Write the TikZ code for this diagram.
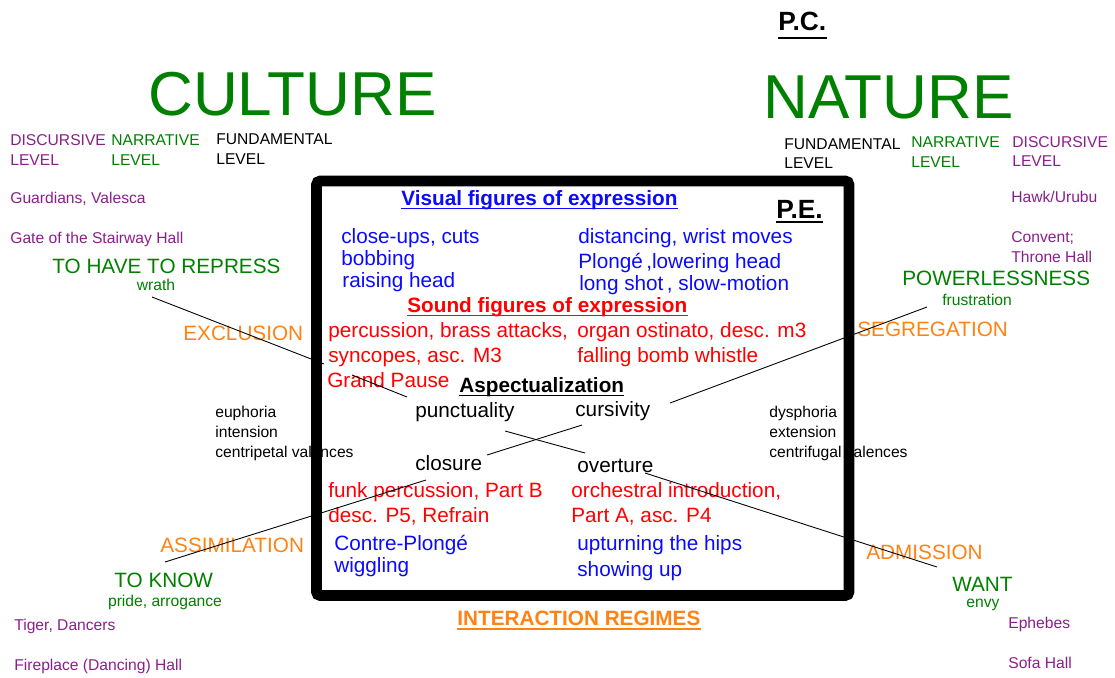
\documentclass[tikz,border=0pt]{standalone}
\usepackage{fontspec}
\setmainfont{Liberation Sans}
\usepackage{tikz}

\definecolor{lvpurple}{RGB}{140,30,140}
\definecolor{lvgreen}{RGB}{0,128,0}
\definecolor{lvorange}{RGB}{255,130,20}
\definecolor{lvblue}{RGB}{10,10,255}
\definecolor{lvred}{RGB}{255,0,0}

\tikzset{
  big/.style={anchor=base west, inner sep=0pt, font=\fontsize{11.8}{14}\selectfont},
  bigb/.style={anchor=base west, inner sep=0pt, font=\fontsize{11.8}{14}\selectfont\bfseries},
  sml/.style={anchor=base west, inner sep=0pt, font=\fontsize{8.9}{11}\selectfont},
  huge/.style={anchor=base west, inner sep=0pt, font=\fontsize{35.3}{40}\selectfont, lvgreen},
  tag/.style={anchor=base west, inner sep=0pt, font=\fontsize{15}{18}\selectfont\bfseries},
  uline/.style={line width=1.1pt},
  diag/.style={black, line width=0.5pt}
}

\begin{document}
\begin{tikzpicture}[x=0.02cm, y=-0.02cm]
      \useasboundingbox (0,0) rectangle (1115,677);
      % titles
      \node [tag] (pc) at (778,30) {P.C.};
      \draw [uline] ([yshift=-4.5pt]pc.base west) -- ([yshift=-4.5pt]pc.base east);
      \node [huge] (culture) at (148,115) {CULTURE};
      \node [huge] (nature) at (763,118) {NATURE};
      % levels, left
      \node [sml, lvpurple] (ldisc) at (10,145) {DISCURSIVE};
      \node [sml, lvpurple] (ldisclv) at (10,165) {LEVEL};
      \node [sml, lvgreen] (lnarr) at (111,145) {NARRATIVE};
      \node [sml, lvgreen] (lnarrlv) at (111,165) {LEVEL};
      \node [sml, black] (lfund) at (216,144) {FUNDAMENTAL};
      \node [sml, black] (lfundlv) at (216,164) {LEVEL};
      \node [sml, lvpurple] (guard) at (10,203) {Guardians, Valesca};
      \node [sml, lvpurple] (gate) at (10,243) {Gate of the Stairway Hall};
      % levels, right
      \node [sml, black] (rfund) at (784,149) {FUNDAMENTAL};
      \node [sml, black] (rfundlv) at (784,168) {LEVEL};
      \node [sml, lvgreen] (rnarr) at (911,147) {NARRATIVE};
      \node [sml, lvgreen] (rnarrlv) at (911,167) {LEVEL};
      \node [sml, lvpurple] (rdisc) at (1012,147) {DISCURSIVE};
      \node [sml, lvpurple] (rdisclv) at (1012,166) {LEVEL};
      \node [sml, lvpurple] (hawk) at (1011,202) {Hawk/Urubu};
      \node [sml, lvpurple] (convent) at (1011,242) {Convent;};
      \node [sml, lvpurple] (throne) at (1011,262) {Throne Hall};
      % narrative corners
      \node [big, lvgreen] (repress) at (52,273) {TO HAVE TO REPRESS};
      \node [sml, lvgreen, anchor=base] (wrath) at (156,290) {wrath};
      \node [big, lvorange] (excl) at (183,340) {EXCLUSION};
      \node [big, lvgreen] (power) at (902,285) {POWERLESSNESS};
      \node [sml, lvgreen] (frust) at (942,305) {frustration};
      \node [big, lvorange] (segr) at (857,336) {SEGREGATION};
      \node [big, lvorange] (assim) at (160,552) {ASSIMILATION};
      \node [big, lvgreen] (know) at (114,587) {TO KNOW};
      \node [sml, lvgreen, anchor=base] (pride) at (165,606) {pride, arrogance};
      \node [sml, lvpurple] (tiger) at (14,630) {Tiger, Dancers};
      \node [sml, lvpurple] (fire) at (14,670) {Fireplace (Dancing) Hall};
      \node [big, lvorange] (admis) at (866,559) {ADMISSION};
      \node [big, lvgreen] (want) at (952,591) {WANT};
      \node [sml, lvgreen, anchor=base] (envy) at (983,607) {envy};
      \node [sml, lvpurple] (ephebes) at (1008,628) {Ephebes};
      \node [sml, lvpurple] (sofa) at (1008,668) {Sofa Hall};
      % valences
      \node [sml] (euph) at (215,417) {euphoria};
      \node [sml] (inten) at (215,437) {intension};
      \node [sml] (cpet) at (215,457) {centripetal valences};
      \node [sml] (dysph) at (769,417) {dysphoria};
      \node [sml] (exten) at (769,437) {extension};
      \node [sml] (cfug) at (769,457) {centrifugal valences};
      % inside P.E.
      \node [bigb, lvblue] (visual) at (401,205) {Visual figures of expression};
      \draw [uline, lvblue] ([yshift=-2pt]visual.base west) -- ([yshift=-2pt]visual.base east);
      \node [tag] (pe) at (776,218) {P.E.};
      \draw [uline] ([yshift=-2.5pt]pe.base west) -- ([yshift=-2.5pt]pe.base east);
      \node [big, lvblue] (closeups) at (341,243) {close-ups, cuts};
      \node [big, lvblue] (bobbing) at (341,265) {bobbing};
      \node [big, lvblue] (raising) at (342,287) {raising head};
      \node [big, lvblue] (distanc) at (578,243) {distancing, wrist moves};
      \node [big, lvblue] (plonge) at (578,268) {Plongé\,,lowering head};
      \node [big, lvblue] (longshot) at (579,290) {long shot\,, slow-motion};
      \node [bigb, lvred] (sound) at (407,312) {Sound figures of expression};
      \draw [uline, lvred] ([yshift=-2pt]sound.base west) -- ([yshift=-2pt]sound.base east);
      \node [big, lvred] (percus) at (328,337) {percussion, brass attacks,};
      \node [big, lvred] (organ) at (577,337) {organ ostinato, desc. m3};
      \node [big, lvred] (syncop) at (328,362) {syncopes, asc. M3};
      \node [big, lvred] (bomb) at (577,362) {falling bomb whistle};
      \node [big, lvred] (pause) at (327,387) {Grand Pause};
      \node [bigb, black] (aspect) at (459,392) {Aspectualization};
      \draw [uline] ([yshift=-2pt]aspect.base west) -- ([yshift=-2pt]aspect.base east);
      \node [big] (punct) at (415,417) {punctuality};
      \node [big] (cursiv) at (575,416) {cursivity};
      \node [big] (closure) at (415,470) {closure};
      \node [big] (overt) at (577,472) {overture};
      \node [big, lvred] (funk) at (328,497) {funk percussion, Part B};
      \node [big, lvred] (descp) at (328,522) {desc. P5, Refrain};
      \node [big, lvred] (orch) at (571,497) {orchestral introduction,};
      \node [big, lvred] (parta) at (571,522) {Part A, asc. P4};
      \node [big, lvblue] (contre) at (334,550) {Contre-Plongé};
      \node [big, lvblue] (wiggle) at (334,572) {wiggling};
      \node [big, lvblue] (upturn) at (577,550) {upturning the hips};
      \node [big, lvblue] (showing) at (577,576) {showing up};
      \node [bigb, lvorange] (regimes) at (457,625) {INTERACTION REGIMES};
      \draw [uline, lvorange] ([yshift=-2.5pt]regimes.base west) -- ([yshift=-2.5pt]regimes.base east);
      % diagonals of the square
      \coordinate (a0) at (152,297);
      \coordinate (a1) at (324,364);
      \coordinate (a2) at (352,375);
      \coordinate (a3) at (407,397);
      \coordinate (a4) at (505,431);
      \coordinate (a5) at (585,453);
      \coordinate (a6) at (645,473);
      \coordinate (a7) at (937,567);
      \draw [diag] (a0) -- (a1);
      \draw [diag] (a2) -- (a3);
      \draw [diag] (a4) -- (a5);
      \draw [diag] (a6) -- (a7);
      \coordinate (b0) at (927,307);
      \coordinate (b1) at (670,403);
      \coordinate (b2) at (582,425);
      \coordinate (b3) at (487,455);
      \coordinate (b4) at (426,480);
      \coordinate (b5) at (165,562);
      \draw [diag] (b0) -- (b1);
      \draw [diag] (b2) -- (b3);
      \draw [diag] (b4) -- (b5);
      % frame
      \draw [black, line width=6pt, rounded corners=2pt] (316.5,181) rectangle (849,595.5);
    \end{tikzpicture}
\end{document}
